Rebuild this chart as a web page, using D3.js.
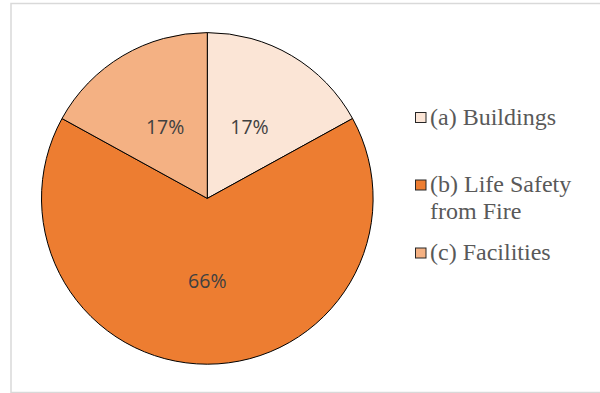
<!DOCTYPE html>
<html>
<head>
	<meta charset="UTF-8">
	<title>Pie</title>
	<style>
		body { margin: 0; background: #fff; }
	</style>
</head>
<body>
	<div class="pie"></div>

	<script src="https://d3js.org/d3.v7.min.js"></script>
	<script>
		// data
		var categories = ["(a) Buildings", "(b) Life Safety from Fire", "(c) Facilities"];
		var values = [17, 66, 17];
		var legendLines = [["(a) Buildings"], ["(b) Life Safety", "from Fire"], ["(c) Facilities"]];
		var colors = ["#FBE5D6", "#ED7D31", "#F4B183"];

		var w = 600;
		var h = 393;
		var cx = 207.3;
		var cy = 198.4;
		var radius = 165.8;

		var SVG = d3.select("div.pie").append("svg")
					.attr("width", w)
					.attr("height", h);

		/* chart frame */
		SVG.append("rect")
			.attr("x", 11)
			.attr("y", 3.5)
			.attr("width", 620)
			.attr("height", 389)
			.attr("fill", "none")
			.attr("stroke", "#d9d9d9")
			.attr("stroke-width", 1.5);

		var pie = d3.pie().sort(null).value(function(d){ return d; });
		var arcs = pie(values);

		var arc = d3.arc().innerRadius(0).outerRadius(radius);
		var labelArc = d3.arc().innerRadius(radius * 0.5).outerRadius(radius * 0.5);

		var g = SVG.append("g")
				.attr("transform", "translate(" + cx + "," + cy + ")");

		/*Slices*/
		g.selectAll("path")
			.data(arcs)
			.enter()
			.append("path")
			.attr("d", arc)
			.attr("fill", function(d, i){ return colors[i]; })
			.attr("stroke", "#000")
			.attr("stroke-width", 1);

		/*Labels*/
		g.selectAll("text")
			.data(arcs)
			.enter()
			.append("text")
			.text(function(d){ return d.data + "%"; })
			.attr("transform", function(d){
				var c = labelArc.centroid(d);
				return "translate(" + c[0] + "," + c[1] + ")";
			})
			.attr("text-anchor", "middle")
			.attr("dy", "0.36em")
			.attr("font-family", "'Open Sans', 'Liberation Sans', sans-serif")
			.attr("font-size", "19.5px")
			.attr("fill", "#404040");

		/*Legend*/
		var legendY = [117.5, 185, 253];
		var legend = SVG.selectAll("g.legend")
			.data(categories)
			.enter()
			.append("g")
			.attr("class", "legend")
			.attr("transform", function(d, i){ return "translate(415," + legendY[i] + ")"; });

		legend.append("rect")
			.attr("x", 0.5)
			.attr("y", -5)
			.attr("width", 10.5)
			.attr("height", 10)
			.attr("fill", function(d, i){ return colors[i]; })
			.attr("stroke", "#262626")
			.attr("stroke-width", 1);

		legend.each(function(d, i){
			var t = d3.select(this).append("text")
				.attr("font-family", "'Liberation Serif', 'Times New Roman', serif")
				.attr("font-size", "24px")
				.attr("fill", "#595959");
			legendLines[i].forEach(function(line, j){
				t.append("tspan")
					.attr("x", 15)
					.attr("y", 7 + j * 26.5)
					.text(line);
			});
		});
	</script>
</body>
</html>
